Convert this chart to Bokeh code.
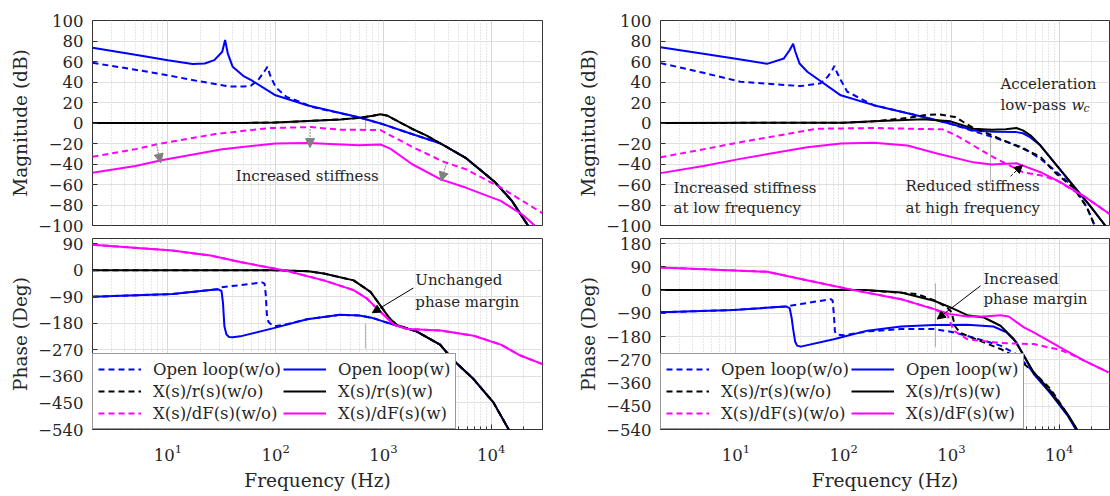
from bokeh.plotting import figure
from bokeh.models import (Range1d, FixedTicker, Legend, LegendItem, Arrow,
                          NormalHead, Label)
from bokeh.layouts import row, column
from bokeh.embed import file_html
from bokeh.resources import INLINE

FONT = "DejaVu Serif"
TXT = "#262626"
BLUE, BLACK, MAG = "#0000ff", "#000000", "#ff00ff"

# ---------------- data ----------------
X_MAJOR = [10, 100, 1000, 10000]
X_MINOR = [m * 10 ** e for e in range(0, 5) for m in range(2, 10)]
MAG_TICKS = [100, 80, 60, 40, 20, 0, -20, -40, -60, -80, -100]
PH_TICKS_L = [90, 0, -90, -180, -270, -360, -450, -540]
PH_TICKS_R = [180, 90, 0, -90, -180, -270, -360, -450, -540]

LEGEND_LABELS = ["Open loop(w/o)", "Open loop(w)", "X(s)/r(s)(w/o)",
                 "X(s)/r(s)(w)", "X(s)/dF(s)(w/o)", "X(s)/dF(s)(w)"]

# Left panel - magnitude (dB)
L_MAG_OLWO_F = [2, 5, 10, 20, 37, 50, 59, 69, 80, 84, 89, 100, 126, 160, 220, 590, 1000, 1840, 3400, 5800, 10700, 15600, 22000]
L_MAG_OLWO_DB = [58.7, 52, 46.5, 40.5, 35.7, 35.5, 36.5, 42, 51.5, 54.8, 46.6, 35, 25.5, 21.5, 15.5, 5.6, -1.3, -10.8, -20, -34, -57, -76, -100]
L_MAG_OLW_F = [2, 5, 10, 17, 22, 27, 32, 34, 36, 40, 50, 60, 100, 200, 590, 1000, 1840, 3400, 5800, 10700, 15600, 22000]
L_MAG_OLW_DB = [73.4, 66.5, 61.3, 57.5, 58, 61.3, 69.5, 81, 68, 54.8, 46, 41.5, 27, 17, 5.6, -1.3, -10.8, -20, -34, -57, -76, -100]
L_MAG_XRWO_F = [2, 50, 100, 200, 400, 590, 800, 940, 1100, 1400, 1840, 2500, 3400, 5800, 10700, 15600, 22000, 30000]
L_MAG_XRWO_DB = [0, 0, 0.5, 2, 3.5, 5, 7, 8.5, 7, 1, -5.6, -12, -20, -34, -57, -76, -100, -120]
L_MAG_XRW_F = [2, 50, 100, 200, 400, 590, 800, 940, 1100, 1400, 1840, 2500, 3400, 5800, 10700, 15600, 22000, 30000]
L_MAG_XRW_DB = [0, 0, 0.5, 2, 3.5, 5, 7, 8.5, 7, 1, -5.6, -12, -20, -34, -57, -76, -100, -120]
L_MAG_XDWO_F = [2, 5, 8, 27.5, 86, 213, 400, 940, 1260, 2000, 3660, 5800, 12300, 30000]
L_MAG_XDWO_DB = [-33, -25.5, -20.7, -10.8, -5, -4, -6.5, -6.9, -14, -25, -38, -45, -63, -88]
L_MAG_XDW_F = [2, 5, 8.7, 32, 100, 200, 590, 940, 1160, 1840, 3400, 5800, 12300, 19600, 26000]
L_MAG_XDW_DB = [-48.5, -42, -36.4, -25.6, -20, -19.5, -21.6, -21, -25, -40, -55, -63, -76, -89.5, -101]

# Left panel - phase (deg)
L_PH_OLWO_F = [2, 11, 29, 31, 47, 75, 79, 81, 83, 86, 89, 98, 130, 196, 397, 600, 800, 1260, 2030, 3360, 4470, 6870, 10500, 14400, 20000]
L_PH_OLWO_DEG = [-89.5, -80.6, -64, -58, -50, -41, -45, -80, -150, -175, -181, -190, -182, -166, -151, -153, -162, -185, -207, -252, -305, -369, -448, -537, -640]
L_PH_OLW_F = [2, 11, 29, 31.5, 32.5, 33.5, 35, 37, 40, 47, 96, 196, 397, 600, 800, 1260, 2030, 3360, 4470, 6870, 10500, 14400, 20000]
L_PH_OLW_DEG = [-89.5, -80.6, -64, -70, -110, -190, -218, -226, -227, -224, -196, -166, -151, -153, -162, -185, -207, -252, -305, -369, -448, -537, -640]
L_PH_XRWO_F = [2, 100, 200, 280, 530, 760, 930, 1120, 1330, 2030, 3360, 4470, 6870, 10500, 14400, 20000]
L_PH_XRWO_DEG = [0, 0, -3, -11, -34, -73, -117, -159, -185, -207, -252, -305, -369, -448, -537, -640]
L_PH_XRW_F = [2, 100, 200, 280, 530, 760, 930, 1120, 1330, 2030, 3360, 4470, 6870, 10500, 14400, 20000]
L_PH_XRW_DEG = [0, 0, -3, -11, -34, -73, -117, -159, -185, -207, -252, -305, -369, -448, -537, -640]
L_PH_XDWO_F = [2, 11, 25, 47, 128, 280, 530, 700, 870, 1080, 1260, 1660, 3400, 6900, 12300, 18700, 30000]
L_PH_XDWO_DEG = [87, 67, 50, 28, -2, -34, -67, -95, -129, -162, -185, -199, -204, -222, -252, -289, -318]
L_PH_XDW_F = [2, 11, 25, 47, 128, 280, 530, 700, 870, 1080, 1260, 1660, 3400, 6900, 12300, 18700, 30000]
L_PH_XDW_DEG = [87, 67, 50, 28, -2, -34, -67, -95, -129, -162, -185, -199, -204, -222, -252, -289, -318]

# Right panel - magnitude (dB)
R_MAG_OLWO_F = [2, 5, 11, 40, 61, 71, 78, 82, 87, 94, 108, 165, 190, 550, 980, 1600, 2300, 4600, 6700, 9500, 13500, 18000, 21300]
R_MAG_OLWO_DB = [58.4, 49, 40.3, 36, 38.7, 45, 51, 55.7, 49, 42, 30.5, 20.6, 17.4, 5.9, -0.7, -8, -13, -24, -35, -48, -62, -82, -100]
R_MAG_OLW_F = [2, 5, 10, 19.5, 27.9, 31.5, 34, 35.5, 39, 46, 94, 190, 550, 980, 1600, 2500, 4000, 4600, 5400, 6700, 9500, 13500, 19400, 26700]
R_MAG_OLW_DB = [74, 67.5, 62.6, 57.7, 63, 71, 77.4, 70, 58, 50, 27, 17.4, 5.9, -0.7, -7.2, -8.5, -8.9, -10, -14, -22, -41.6, -61, -81, -100]
R_MAG_XRWO_F = [2, 100, 190, 400, 550, 750, 1080, 1550, 2300, 4600, 6700, 9500, 13500, 18000, 21300]
R_MAG_XRWO_DB = [0, 0.3, 1.6, 5, 7.5, 8.5, 5.9, -4, -11.5, -25, -33, -50, -63, -82, -100]
R_MAG_XRW_F = [2, 100, 190, 550, 980, 1600, 2350, 3200, 4000, 4600, 5400, 6700, 9500, 13500, 19400, 26700]
R_MAG_XRW_DB = [0, 0.3, 1.6, 3.6, 1.6, -5.6, -6.6, -6, -4.9, -7.2, -12, -22, -41.6, -61, -81, -100]
R_MAG_XDWO_F = [2, 5, 11, 56, 190, 830, 1100, 1600, 2450, 4600, 6700, 9500, 13500, 16700, 29500]
R_MAG_XDWO_DB = [-33.4, -25.7, -18.7, -5.6, -4.9, -6.2, -12, -22, -33.4, -48, -51, -56, -66, -71, -89]
R_MAG_XDW_F = [2, 5, 11, 46, 94, 190, 390, 750, 1600, 2350, 4000, 4600, 6700, 10300, 16700, 29500]
R_MAG_XDW_DB = [-48.9, -42, -35, -23.6, -20, -19.3, -22, -30, -38.4, -40.6, -39.3, -41.6, -48, -58, -71, -89]

# Right panel - phase (deg)
R_PH_OLWO_F = [2, 9.6, 29, 40, 76, 79, 81, 83, 86, 100, 166, 340, 690, 980, 1400, 2850, 4000, 5800, 8300, 11900, 14500]
R_PH_OLWO_DEG = [-86, -77, -63, -54, -35, -40, -90, -160, -172, -175, -160, -151, -151, -161, -177, -215, -248, -319, -390, -480, -540]
R_PH_OLW_F = [2, 9.6, 29, 31.6, 33, 34, 35.5, 37, 40, 81, 166, 340, 690, 1400, 2450, 3250, 4000, 4700, 5800, 8300, 11900, 14500]
R_PH_OLW_DEG = [-86, -77, -63, -70, -110, -151, -200, -215, -219, -190, -157, -141, -135, -134, -141, -164, -202, -254, -325, -400, -485, -545]
R_PH_XRWO_F = [2, 160, 480, 690, 900, 1000, 1080, 1200, 1400, 2000, 2850, 4000, 5800, 8300, 11900, 14500, 20000]
R_PH_XRWO_DEG = [0, 0, -15.5, -39, -65, -85, -140, -165, -177, -202.5, -228, -260, -319, -383, -480, -538, -620]
R_PH_XRW_F = [2, 160, 340, 690, 980, 1400, 2000, 2850, 3800, 4700, 5800, 8300, 11900, 14500, 20000]
R_PH_XRW_DEG = [0, 0, -9, -41, -67, -97, -106, -138, -190, -254, -319, -396, -480, -538, -620]
R_PH_XDWO_F = [2, 19.5, 57, 124, 340, 690, 915, 1050, 1400, 2850, 5800, 10200, 13000, 17000, 28600]
R_PH_XDWO_DEG = [87.7, 71, 29.7, 0, -35, -73.5, -97, -157, -190, -205, -209, -232, -250, -273, -319]
R_PH_XDW_F = [2, 19.5, 57, 124, 340, 690, 980, 1400, 2000, 2850, 3400, 4700, 5800, 10200, 17000, 28600]
R_PH_XDW_DEG = [87.7, 71, 29.7, 0, -35, -73.5, -93, -102, -102, -97, -102, -144.5, -164, -222, -273, -319]

# ---------------- helpers ----------------
STYLES = [(BLUE, "dashed"), (BLUE, "solid"), (BLACK, "dashed"),
          (BLACK, "solid"), (MAG, "dashed"), (MAG, "solid")]


def make_fig(width, height, bl, br, bt, bb, x_end, y0, y1, yticks,
             show_x, ylabel):
    p = figure(width=width, height=height, x_axis_type="log",
               x_range=Range1d(2, x_end), y_range=Range1d(y0, y1),
               output_backend="svg", toolbar_location=None,
               min_border_left=bl, min_border_right=br,
               min_border_top=bt, min_border_bottom=bb,
               background_fill_color="white", border_fill_color="white")
    p.outline_line_color = "#333333"
    p.outline_line_width = 1
    xt = FixedTicker(ticks=X_MAJOR, minor_ticks=X_MINOR)
    p.xaxis.ticker = xt
    p.xgrid.ticker = xt
    p.yaxis.ticker = FixedTicker(ticks=yticks)
    p.ygrid.ticker = FixedTicker(ticks=yticks)
    p.xgrid.grid_line_color = "#d8d8d8"
    p.xgrid.minor_grid_line_color = "#cccccc"
    p.xgrid.minor_grid_line_dash = "1 2"
    p.ygrid.grid_line_color = "#e0e0e0"
    for ax in (p.xaxis[0], p.yaxis[0]):
        ax.axis_line_color = None
        ax.major_tick_in = 5
        ax.major_tick_out = 0
        ax.minor_tick_in = 3
        ax.minor_tick_out = 0
        ax.major_tick_line_color = "#333333"
        ax.minor_tick_line_color = "#333333"
        ax.major_label_text_font = FONT
        ax.major_label_text_color = TXT
        ax.major_label_text_font_size = "16.5px"
        ax.axis_label_text_font = FONT
        ax.axis_label_text_color = TXT
        ax.axis_label_text_font_size = "18.5px"
        ax.axis_label_text_font_style = "normal"
    p.yaxis.minor_tick_line_color = None
    p.yaxis.major_label_standoff = 9
    p.yaxis.axis_label = ylabel
    p.yaxis.axis_label_standoff = 4
    if show_x:
        p.xaxis.major_label_standoff = 14
        p.xaxis.axis_label = "Frequency (Hz)"
        p.xaxis.axis_label_standoff = 6
    else:
        p.xaxis.visible = False
    return p


def draw(p, series):
    rs = []
    for (f, v), (c, dash) in zip(series, STYLES):
        rs.append(p.line(f, v, line_color=c, line_width=2,
                         line_dash="6 4" if dash == "dashed" else "solid"))
    return rs


def add_legend(p, rs):
    order = [0, 2, 4, 1, 3, 5]
    items = [LegendItem(label=LEGEND_LABELS[i], renderers=[rs[i]]) for i in order]
    leg = Legend(items=items, location="bottom_left", ncols=2,
                 orientation="vertical", margin=0, padding=5, spacing=2,
                 glyph_width=43, glyph_height=20, label_height=20,
                 label_standoff=12, label_text_font=FONT,
                 label_text_font_size="16.5px", label_text_color=TXT,
                 border_line_color="#333333", border_line_width=1,
                 background_fill_color="white", background_fill_alpha=1)
    p.add_layout(leg)


def label(p, x, y, text, size="15px", align="left", style="normal",
          xo=0, yo=0):
    p.add_layout(Label(x=x, y=y, text=text, text_font=FONT,
                       text_font_size=size, text_color=TXT,
                       text_align=align, text_baseline="middle",
                       text_font_style=style, x_offset=xo, y_offset=yo))


def arrow(p, x0, y0, x1, y1, color, dash="solid", size=9):
    p.add_layout(Arrow(x_start=x0, y_start=y0, x_end=x1, y_end=y1,
                       line_color=color, line_width=1, line_dash=dash,
                       end=NormalHead(size=size, fill_color=color,
                                      line_color=color)))


def marker(p, f, y0, y1):
    p.line([f, f], [y0, y1], line_color="#b0b0b0", line_width=1)


# ---------------- left column ----------------
LW, RW = 555, 555
L_END = 30000
R_END = 29250
MAG_H, PH_H = 234, 262

lm = make_fig(LW, MAG_H, 92, 13, 20, 9, L_END, -100, 100, MAG_TICKS, False,
              "Magnitude (dB)")
marker(lm, 682, 6, -6)
draw(lm, [(L_MAG_OLWO_F, L_MAG_OLWO_DB), (L_MAG_OLW_F, L_MAG_OLW_DB),
          (L_MAG_XRWO_F, L_MAG_XRWO_DB), (L_MAG_XRW_F, L_MAG_XRW_DB),
          (L_MAG_XDWO_F, L_MAG_XDWO_DB), (L_MAG_XDW_F, L_MAG_XDW_DB)])
GRAY = "#808080"
arrow(lm, 7.8, -20, 8.6, -39, GRAY, "2 1")
arrow(lm, 209, -5.9, 209, -24, GRAY, "2 1")
arrow(lm, 3880, -38.7, 3430, -56.7, GRAY, "2 1")
label(lm, 197, -52, "Increased stiffness", align="center")

lp = make_fig(LW, PH_H, 92, 13, 4, 67, L_END, -540, 108, PH_TICKS_L, True,
              "Phase (Deg)")
marker(lp, 682, -180, -265)
rs = draw(lp, [(L_PH_OLWO_F, L_PH_OLWO_DEG), (L_PH_OLW_F, L_PH_OLW_DEG),
               (L_PH_XRWO_F, L_PH_XRWO_DEG), (L_PH_XRW_F, L_PH_XRW_DEG),
               (L_PH_XDWO_F, L_PH_XDWO_DEG), (L_PH_XDW_F, L_PH_XDW_DEG)])
add_legend(lp, rs)
label(lp, 1980, -34, "Unchanged")
label(lp, 1980, -107, "phase margin")
arrow(lp, 1900, -60, 790, -144, BLACK, "solid", 8)

# ---------------- right column ----------------
rm = make_fig(RW, MAG_H, 105, 1, 20, 9, R_END, -100, 100, MAG_TICKS, False,
              "Magnitude (dB)")
marker(rm, 2300, -5, -59)
draw(rm, [(R_MAG_OLWO_F, R_MAG_OLWO_DB), (R_MAG_OLW_F, R_MAG_OLW_DB),
          (R_MAG_XRWO_F, R_MAG_XRWO_DB), (R_MAG_XRW_F, R_MAG_XRW_DB),
          (R_MAG_XDWO_F, R_MAG_XDWO_DB), (R_MAG_XDW_F, R_MAG_XDW_DB)])
label(rm, 2850, 38, "Acceleration")
label(rm, 2850, 17.6, "low-pass")
label(rm, 2850, 17.6, "w", style="italic", xo=71)
label(rm, 2850, 17.6, "c", size="11px", style="italic", xo=83, yo=-4)
label(rm, 2.64, -63.7, "Increased stiffness")
label(rm, 2.64, -83.3, "at low frequency")
label(rm, 375, -61.8, "Reduced stiffness")
label(rm, 375, -83.3, "at high frequency")
arrow(rm, 3530, -52, 4560, -41, BLACK, "3 2", 8)

rp = make_fig(RW, PH_H, 105, 1, 4, 67, R_END, -540, 200, PH_TICKS_R, True,
              "Phase (Deg)")
marker(rp, 711, 27, -221)
rs = draw(rp, [(R_PH_OLWO_F, R_PH_OLWO_DEG), (R_PH_OLW_F, R_PH_OLW_DEG),
               (R_PH_XRWO_F, R_PH_XRWO_DEG), (R_PH_XRW_F, R_PH_XRW_DEG),
               (R_PH_XDWO_F, R_PH_XDWO_DEG), (R_PH_XDW_F, R_PH_XDW_DEG)])
add_legend(rp, rs)
label(rp, 1980, 42.6, "Increased")
label(rp, 1980, -35, "phase margin")
arrow(rp, 1860, 16.6, 738, -112, BLACK, "solid", 8)

layout = row(column(lm, lp, spacing=0), column(rm, rp, spacing=0), spacing=0)
open("out.html", "w").write(file_html(layout, INLINE))
